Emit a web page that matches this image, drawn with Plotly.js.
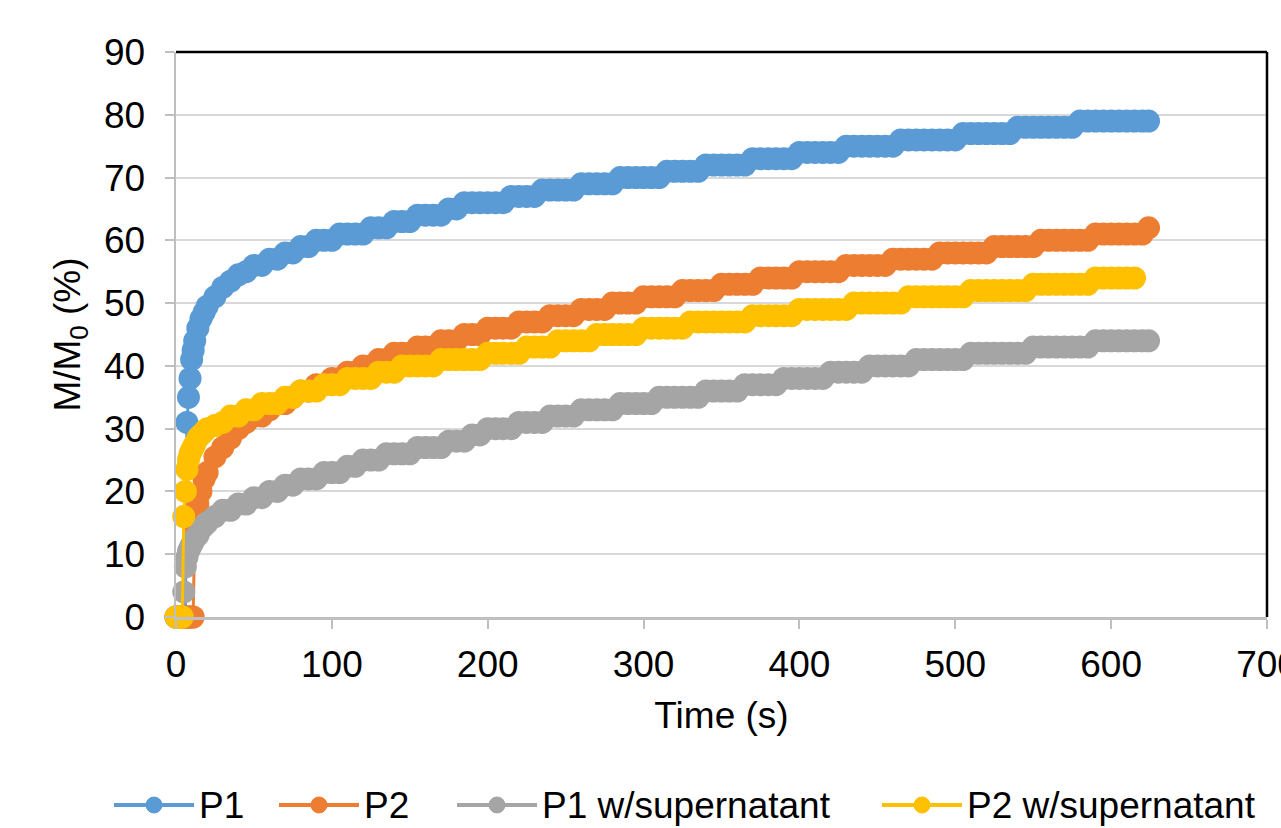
<!DOCTYPE html>
<html>
<head>
<meta charset="utf-8">
<script src="https://cdn.plot.ly/plotly-3.0.1.min.js"></script>
<style>
  html, body { margin: 0; padding: 0; background: #ffffff; }
  #chart { width: 1281px; height: 828px; }
</style>
</head>
<body>
<div id="chart"></div>
<script>
// Shared sampling times (s)
const timeSec = [
  0, 1, 2, 3, 4, 5, 6, 7, 8, 9, 10, 11, 12,
  14, 16, 18, 20, 25,
  30, 35, 40, 45, 50, 55, 60, 65, 70, 75,
  80, 85, 90, 95, 100, 105, 110, 115, 120, 125,
  130, 135, 140, 145, 150, 155, 160, 165, 170, 175,
  180, 185, 190, 195, 200, 205, 210, 215, 220, 225,
  230, 235, 240, 245, 250, 255, 260, 265, 270, 275,
  280, 285, 290, 295, 300, 305, 310, 315, 320, 325,
  330, 335, 340, 345, 350, 355, 360, 365, 370, 375,
  380, 385, 390, 395, 400, 405, 410, 415, 420, 425,
  430, 435, 440, 445, 450, 455, 460, 465, 470, 475,
  480, 485, 490, 495, 500, 505, 510, 515, 520, 525,
  530, 535, 540, 545, 550, 555, 560, 565, 570, 575,
  580, 585, 590, 595, 600, 605, 610, 615, 620, 624
];

// M/M0 (%) per series
const p1 = [
  0, 0, 0, 0, 0, 0, 0, 31, 35, 38, 41, 42.5, 44,
  46, 47.5, 48.5, 49.5, 51,
  52.5, 53.5, 54.5, 55, 56, 56, 57, 57, 58, 58,
  59, 59, 60, 60, 60, 61, 61, 61, 61, 62,
  62, 62, 63, 63, 63, 64, 64, 64, 64, 65,
  65, 66, 66, 66, 66, 66, 66, 67, 67, 67,
  67, 68, 68, 68, 68, 68, 69, 69, 69, 69,
  69, 70, 70, 70, 70, 70, 70, 71, 71, 71,
  71, 71, 72, 72, 72, 72, 72, 72, 73, 73,
  73, 73, 73, 73, 74, 74, 74, 74, 74, 74,
  75, 75, 75, 75, 75, 75, 75, 76, 76, 76,
  76, 76, 76, 76, 76, 77, 77, 77, 77, 77,
  77, 77, 78, 78, 78, 78, 78, 78, 78, 78,
  79, 79, 79, 79, 79, 79, 79, 79, 79, 79
];

const p2 = [
  0, 0, 0, 0, 0, 0, 0, 0, 0, 0, 0, 0, 14,
  18, 20, 22, 23, 25.5,
  27, 28.5, 30, 31, 32, 32, 33, 34, 34, 35,
  36, 36, 37, 37, 38, 38, 39, 39, 40, 40,
  41, 41, 42, 42, 42, 43, 43, 43, 44, 44,
  44, 45, 45, 45, 46, 46, 46, 46, 47, 47,
  47, 47, 48, 48, 48, 48, 49, 49, 49, 49,
  50, 50, 50, 50, 51, 51, 51, 51, 51, 52,
  52, 52, 52, 52, 53, 53, 53, 53, 53, 54,
  54, 54, 54, 54, 55, 55, 55, 55, 55, 55,
  56, 56, 56, 56, 56, 56, 57, 57, 57, 57,
  57, 57, 58, 58, 58, 58, 58, 58, 58, 59,
  59, 59, 59, 59, 59, 60, 60, 60, 60, 60,
  60, 60, 61, 61, 61, 61, 61, 61, 61, 62
];

const p1Sup = [
  0, 0, 0, 0, 0, 4, 8, 9.5, 10.5, 11, 11.5, 12, 12.5,
  13, 14, 14.5, 15, 16,
  17, 17, 18, 18, 19, 19, 20, 20, 21, 21,
  22, 22, 22, 23, 23, 23, 24, 24, 25, 25,
  25, 26, 26, 26, 26, 27, 27, 27, 27, 28,
  28, 28, 29, 29, 30, 30, 30, 30, 31, 31,
  31, 31, 32, 32, 32, 32, 33, 33, 33, 33,
  33, 34, 34, 34, 34, 34, 35, 35, 35, 35,
  35, 35, 36, 36, 36, 36, 36, 37, 37, 37,
  37, 37, 38, 38, 38, 38, 38, 38, 39, 39,
  39, 39, 39, 40, 40, 40, 40, 40, 40, 41,
  41, 41, 41, 41, 41, 41, 42, 42, 42, 42,
  42, 42, 42, 42, 43, 43, 43, 43, 43, 43,
  43, 43, 44, 44, 44, 44, 44, 44, 44, 44
];

const p2Sup = [
  0, 0, 0, 0, 0, 16, 20, 23.5, 25, 26, 26.5, 27, 27.5,
  28.5, 29, 29.5, 30, 30.5,
  31, 32, 32, 33, 33, 34, 34, 34, 35, 35,
  36, 36, 36, 37, 37, 37, 38, 38, 38, 38,
  39, 39, 39, 40, 40, 40, 40, 40, 41, 41,
  41, 41, 41, 41, 42, 42, 42, 42, 42, 43,
  43, 43, 43, 44, 44, 44, 44, 44, 45, 45,
  45, 45, 45, 45, 46, 46, 46, 46, 46, 46,
  47, 47, 47, 47, 47, 47, 47, 47, 48, 48,
  48, 48, 48, 48, 49, 49, 49, 49, 49, 49,
  49, 50, 50, 50, 50, 50, 50, 50, 51, 51,
  51, 51, 51, 51, 51, 51, 52, 52, 52, 52,
  52, 52, 52, 52, 53, 53, 53, 53, 53, 53,
  53, 53, 54, 54, 54, 54, 54, 54, null, null
];

const seriesNames = ['P1', 'P2', 'P1 w/supernatant', 'P2 w/supernatant'];
const seriesColors = ['#5B9BD5', '#ED7D31', '#A5A5A5', '#FFC000'];
const seriesValues = [p1, p2, p1Sup, p2Sup];

const xTickVals = [0, 100, 200, 300, 400, 500, 600, 700];
const yTickVals = [0, 10, 20, 30, 40, 50, 60, 70, 80, 90];

const FONT = 'Liberation Sans, Arial, sans-serif';
const FS = 37;

// plot frame in pixels (for placing the legend drawn below the axes)
const M = { l: 176, r: 14, t: 52, b: 211 };
const W = 1281, H = 828;
const PW = W - M.l - M.r, PH = H - M.t - M.b;
const px2paperX = px => (px - M.l) / PW;
const px2paperY = py => (H - M.b - py) / PH;

const traces = seriesNames.map((name, i) => ({
  type: 'scatter',
  mode: 'lines+markers',
  name: name,
  x: timeSec,
  y: seriesValues[i],
  cliponaxis: false,
  connectgaps: false,
  showlegend: false,
  line: { color: seriesColors[i], width: 3 },
  marker: { color: seriesColors[i], size: 23, symbol: 'circle' }
}));

// Legend (drawn as shapes + text so that the sample lines match the original length)
const legendTextX = [197, 362, 540, 965];
const legendY = 805;
const legendShapes = [];
const legendAnnots = [];
seriesNames.forEach((name, i) => {
  const x1 = legendTextX[i] - 3, x0 = x1 - 80, xc = (x0 + x1) / 2;
  legendShapes.push({
    type: 'line', xref: 'paper', yref: 'paper',
    x0: px2paperX(x0), x1: px2paperX(x1), y0: px2paperY(legendY), y1: px2paperY(legendY),
    line: { color: seriesColors[i], width: 4 }
  });
  legendShapes.push({
    type: 'circle', xref: 'paper', yref: 'paper',
    x0: px2paperX(xc - 8), x1: px2paperX(xc + 8),
    y0: px2paperY(legendY + 8), y1: px2paperY(legendY - 8),
    fillcolor: seriesColors[i], line: { color: seriesColors[i], width: 1 }
  });
  legendAnnots.push({
    xref: 'paper', yref: 'paper', x: px2paperX(legendTextX[i]), y: px2paperY(legendY),
    xanchor: 'left', yanchor: 'middle', showarrow: false, text: name,
    font: { family: FONT, size: FS, color: '#000000' }
  });
});

const layout = {
  width: W,
  height: H,
  paper_bgcolor: '#ffffff',
  plot_bgcolor: '#ffffff',
  margin: { l: M.l, r: M.r, t: M.t, b: M.b, autoexpand: false },
  font: { family: FONT, size: FS, color: '#000000' },
  showlegend: false,
  xaxis: {
    range: [0, 700],
    tickvals: xTickVals,
    ticktext: xTickVals.map(String),
    showgrid: false,
    zeroline: false,
    showline: true,
    linecolor: '#BFBFBF',
    linewidth: 2.5,
    ticks: 'outside',
    ticklen: 9,
    tickwidth: 2,
    tickcolor: '#BFBFBF',
    ticklabelstandoff: 4,
    ticklabeloverflow: 'allow',
    tickfont: { family: FONT, size: FS, color: '#000000' },
    title: { text: 'Time (s)', font: { family: FONT, size: FS, color: '#000000' }, standoff: 18 },
    automargin: false,
    fixedrange: true
  },
  yaxis: {
    range: [0, 90],
    tickvals: yTickVals,
    ticktext: yTickVals.map(String),
    showgrid: true,
    gridcolor: '#D9D9D9',
    gridwidth: 2,
    zeroline: false,
    showline: true,
    linecolor: '#BFBFBF',
    linewidth: 2.5,
    ticks: 'outside',
    ticklen: 9,
    tickwidth: 2,
    tickcolor: '#BFBFBF',
    ticklabelstandoff: 12,
    ticklabeloverflow: 'allow',
    tickfont: { family: FONT, size: FS, color: '#000000' },
    title: { text: 'M/M<sub>0</sub> (%)', font: { family: FONT, size: FS, color: '#000000' }, standoff: 12 },
    automargin: false,
    fixedrange: true
  },
  shapes: [
    { type: 'line', xref: 'paper', yref: 'paper', x0: 0, x1: 1, y0: 1, y1: 1,
      line: { color: '#000000', width: 2.5 }, layer: 'above' },
    { type: 'line', xref: 'paper', yref: 'paper', x0: 1, x1: 1, y0: 0, y1: 1,
      line: { color: '#000000', width: 2.5 }, layer: 'above' }
  ].concat(legendShapes),
  annotations: legendAnnots
};

Plotly.newPlot('chart', traces, layout, { displayModeBar: false, staticPlot: true });
</script>
</body>
</html>
